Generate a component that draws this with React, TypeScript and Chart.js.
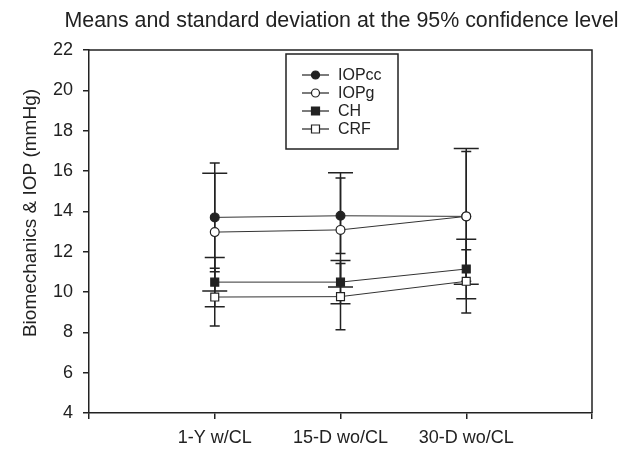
import React, { useEffect, useRef } from "react";
import { Chart, registerables } from "chart.js";

Chart.register(...registerables);

const categories = ["1-Y w/CL", "15-D wo/CL", "30-D wo/CL"];
const yTicks = [4, 6, 8, 10, 12, 14, 16, 18, 20, 22];

const seriesNames = ["IOPcc", "IOPg", "CH", "CRF"];
const iopcc = [13.7, 13.78, 13.75];
const iopccSD = [2.7, 1.87, 3.22];
const iopg = [12.97, 13.08, 13.75];
const iopgSD = [2.92, 2.83, 3.36];
const ch = [10.49, 10.49, 11.14];
const chSD = [1.22, 1.07, 1.48];
const crf = [9.75, 9.77, 10.53];
const crfSD = [1.43, 1.64, 1.57];

const titleText = "Means and standard deviation at the 95% confidence level";
const yTitleText = "Biomechanics & IOP (mmHg)";

const FONT = '"Liberation Sans", Arial, sans-serif';
const INK = "#222";

const seriesStyles = [
  { fill: INK, style: "circle", radius: 4.4, cap: 5 },
  { fill: "#fff", style: "circle", radius: 4.4, cap: 12.5 },
  { fill: INK, style: "rect", radius: 5.6, cap: 10 },
  { fill: "#fff", style: "rect", radius: 5.6, cap: 5 },
];

const values = [iopcc, iopg, ch, crf];
const sds = [iopccSD, iopgSD, chSD, crfSD];

const errorBarPlugin = {
  id: "errorBars",
  beforeDatasetsDraw(chart: any) {
    const { ctx, scales } = chart;
    const xs = scales.x;
    const ys = scales.y;
    ctx.save();
    ctx.strokeStyle = INK;
    ctx.lineWidth = 1.5;
    values.forEach((vals, s) => {
      vals.forEach((v, i) => {
        const px = xs.getPixelForValue(i + 1);
        const top = ys.getPixelForValue(v + sds[s][i]);
        const bot = ys.getPixelForValue(v - sds[s][i]);
        const cw = seriesStyles[s].cap;
        ctx.beginPath();
        ctx.moveTo(px, top);
        ctx.lineTo(px, bot);
        ctx.moveTo(px - cw, top);
        ctx.lineTo(px + cw, top);
        ctx.moveTo(px - cw, bot);
        ctx.lineTo(px + cw, bot);
        ctx.stroke();
      });
    });
    ctx.restore();
  },
};

const framePlugin = {
  id: "frameAndText",
  afterDraw(chart: any) {
    const { ctx, chartArea } = chart;
    ctx.save();
    // frame top & right
    ctx.strokeStyle = INK;
    ctx.lineWidth = 1.5;
    ctx.beginPath();
    ctx.moveTo(chartArea.left, chartArea.top);
    ctx.lineTo(chartArea.right, chartArea.top);
    ctx.lineTo(chartArea.right, chartArea.bottom);
    ctx.stroke();

    // title
    ctx.fillStyle = INK;
    ctx.font = `21.4px ${FONT}`;
    ctx.textAlign = "center";
    ctx.textBaseline = "alphabetic";
    ctx.fillText(titleText, (chartArea.left + chartArea.right) / 2 + 1, 26.5);

    // y title
    ctx.save();
    ctx.translate(36, 213);
    ctx.rotate(-Math.PI / 2);
    ctx.font = `19px ${FONT}`;
    ctx.textAlign = "center";
    ctx.fillText(yTitleText, 0, 0);
    ctx.restore();

    // legend
    const bx = 286, by = 54, bw = 112, bh = 95;
    ctx.fillStyle = "#fff";
    ctx.fillRect(bx, by, bw, bh);
    ctx.strokeStyle = INK;
    ctx.lineWidth = 1.5;
    ctx.strokeRect(bx, by, bw, bh);
    const rows = [75, 93, 111, 129];
    seriesNames.forEach((name, i) => {
      const y = rows[i];
      const st = seriesStyles[i];
      ctx.strokeStyle = INK;
      ctx.lineWidth = 1.2;
      ctx.beginPath();
      ctx.moveTo(302, y);
      ctx.lineTo(329, y);
      ctx.stroke();
      ctx.fillStyle = st.fill;
      ctx.beginPath();
      if (st.style === "circle") {
        ctx.arc(315.5, y, 4, 0, Math.PI * 2);
      } else {
        ctx.rect(311.5, y - 4, 8, 8);
      }
      ctx.fill();
      ctx.stroke();
      ctx.fillStyle = INK;
      ctx.font = `16px ${FONT}`;
      ctx.textAlign = "left";
      ctx.textBaseline = "middle";
      ctx.fillText(name, 338, y + 0.5);
    });
    ctx.restore();
  },
};

export default function App() {
  const ref = useRef<HTMLCanvasElement>(null);
  useEffect(() => {
    if (!ref.current) return;
    const datasets = values.map((vals, s) => ({
      label: seriesNames[s],
      data: vals.map((v, i) => ({ x: i + 1, y: v })),
      borderColor: "#333",
      borderWidth: 1,
      pointStyle: seriesStyles[s].style,
      pointRadius: seriesStyles[s].radius,
      pointBackgroundColor: seriesStyles[s].fill,
      pointBorderColor: INK,
      pointBorderWidth: 1.2,
      fill: false,
      tension: 0,
      order: 4 - s,
    }));
    const chart = new Chart(ref.current, {
      type: "line",
      data: { datasets },
      plugins: [errorBarPlugin, framePlugin],
      options: {
        animation: false,
        responsive: false,
        devicePixelRatio: 1,
        layout: { padding: { top: 50, right: 37, left: 0, bottom: 0 } },
        plugins: {
          legend: { display: false },
          title: { display: false },
          tooltip: { enabled: false },
        },
        scales: {
          x: {
            type: "linear",
            min: 0,
            max: 4,
            afterFit: (s: any) => {
              s.height = 38;
            },
            afterBuildTicks: (s: any) => {
              s.ticks = [0, 1, 2, 3, 4].map((v) => ({ value: v }));
            },
            ticks: {
              autoSkip: false,
              maxRotation: 0,
              padding: 8,
              color: INK,
              font: { family: FONT, size: 18 },
              callback: (v: any) => {
                const idx = Number(v) - 1;
                return idx >= 0 && idx < categories.length ? categories[idx] : "";
              },
            },
            grid: {
              drawOnChartArea: false,
              drawTicks: true,
              tickLength: 6,
              color: INK,
              lineWidth: 1.5,
            },
            border: { display: true, color: INK, width: 1.5 },
          },
          y: {
            type: "linear",
            min: 4,
            max: 22,
            afterFit: (s: any) => {
              s.width = 89;
            },
            afterBuildTicks: (s: any) => {
              s.ticks = yTicks.map((v) => ({ value: v }));
            },
            ticks: {
              padding: 10,
              color: INK,
              font: { family: FONT, size: 18 },
            },
            grid: {
              drawOnChartArea: false,
              drawTicks: true,
              tickLength: 6,
              color: INK,
              lineWidth: 1.5,
            },
            border: { display: true, color: INK, width: 1.5 },
          },
        },
      },
    } as any);
    return () => chart.destroy();
  }, []);
  return (
    <div style={{ position: "absolute", left: 0, top: 0, width: 629, height: 451, background: "#fff" }}>
      <canvas ref={ref} width={629} height={451} />
    </div>
  );
}
